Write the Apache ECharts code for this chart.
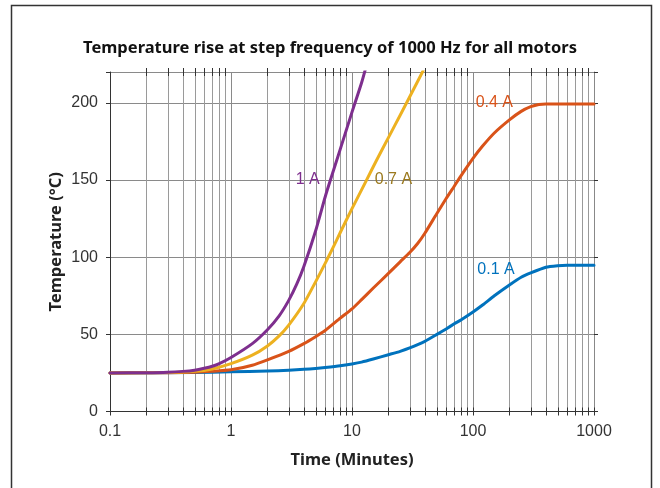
<!DOCTYPE html>
<html>
<head>
<meta charset="utf-8">
<script src="https://cdn.jsdelivr.net/npm/echarts@6/dist/echarts.min.js"></script>
<style>html,body{margin:0;padding:0;background:#fff}#c{width:660px;height:488px}</style>
</head>
<body>
<div id="c"></div>
<script>
// ---- data ----
const xTickLabels = ['0.1', '1', '10', '100', '1000'];
const yTicks = [0, 50, 100, 150, 200];
const minorTimes = [0.2,0.3,0.4,0.5,0.6,0.7,0.8,0.9,2,3,4,5,6,7,8,9,20,30,40,50,60,70,80,90,200,300,400,500,600,700,800,900];

const time_01A = [0.1, 0.5, 1, 2, 3, 4, 5, 6, 8, 10, 12, 15, 20, 25, 30, 40, 50, 60, 70, 80, 100, 120, 150, 200, 250, 300, 400, 500, 600, 1000];
const temp_01A = [25, 25.2, 25.7, 26.2, 26.8, 27.3, 27.9, 28.5, 29.6, 30.8, 32, 34, 36.8, 39, 41.2, 45.5, 49.8, 53.5, 56.8, 59.5, 64.5, 69, 75, 82, 87, 89.8, 93.5, 94.5, 94.8, 94.8];

const time_04A = [0.1, 0.3, 0.5, 0.7, 1, 1.5, 2, 3, 4, 5, 6, 8, 10, 12, 15, 20, 25, 30, 35, 40, 50, 60, 70, 80, 100, 120, 150, 200, 250, 300, 350, 400, 1000];
const temp_04A = [25, 25.1, 25.4, 26, 27, 30, 33.5, 39, 44, 48.5, 52.5, 60.5, 66.5, 72.5, 80, 89.5, 97, 103, 109, 115.5, 128, 138, 146, 153, 164, 172, 180.5, 189, 194.5, 197.5, 199, 199.3, 199.3];

const time_07A = [0.1, 0.3, 0.5, 0.7, 1, 1.5, 2, 2.5, 3, 4, 5, 6, 7, 8, 10, 13, 16, 20, 25, 30, 40];
const temp_07A = [25, 25.2, 26, 27.6, 31, 36.5, 42.5, 49, 56, 70, 84, 96, 106.5, 116, 131.5, 149, 163, 177.5, 192, 204, 223];

const time_1A = [0.1, 0.2, 0.3, 0.4, 0.5, 0.6, 0.7, 0.8, 1, 1.5, 2, 2.5, 3, 3.5, 4, 5, 6, 6.6, 8, 10, 12, 14];
const temp_1A = [25, 25.1, 25.4, 26, 26.8, 28, 29.3, 31, 35, 44, 53, 62, 72, 82.7, 94, 117, 139, 149.5, 170, 194, 213, 232];

const seriesNames = ['0.1 A', '0.4 A', '0.7 A', '1 A'];
const labelTime = [155, 150, 22, 4.3];
const labelTemp = [92, 200, 150, 150];

const colors = ['#0072BD', '#D95319', '#EDB120', '#7E2F8E'];
const labelColors = ['#0072BD', '#D95319', '#9C7A1E', '#7E2F8E'];

const pairs = (xs, ys) => xs.map((x, i) => [x, ys[i]]);
const seriesData = [pairs(time_01A, temp_01A), pairs(time_04A, temp_04A), pairs(time_07A, temp_07A), pairs(time_1A, temp_1A)];

const chart = echarts.init(document.getElementById('c'));
const fmtX = v => { const s = String(+(+v).toPrecision(3)); return xTickLabels.includes(s) ? s : ''; };
const fmtY = v => yTicks.includes(v) ? String(v) : '';

const lineSeries = seriesData.map((d, i) => ({
  type: 'line', name: seriesNames[i], data: d, xAxisIndex: 0, yAxisIndex: 0,
  showSymbol: false, symbol: 'none', smooth: 0.2, clip: true, z: 5 + i,
  lineStyle: { color: colors[i], width: 3, join: 'round', cap: 'round' },
  markPoint: {
    symbol: 'circle', symbolSize: 0, silent: true,
    data: [{ coord: [labelTime[i], labelTemp[i]], value: seriesNames[i] }],
    label: { show: true, position: 'inside', formatter: seriesNames[i], color: labelColors[i],
      fontFamily: 'Liberation Sans', fontSize: 16 }
  }
}));

const minorSeries = {
  type: 'custom', xAxisIndex: 0, yAxisIndex: 0, silent: true, z: 1,
  data: minorTimes.map(t => [t, 0]),
  renderItem: (params, api) => {
    const p0 = api.coord([api.value(0), 0]);
    const p1 = api.coord([api.value(0), 220]);
    const x = Math.round(p0[0]) + 0.5;
    return { type: 'group', children: [
      { type: 'line', shape: { x1: x, y1: p0[1], x2: x, y2: p1[1] }, style: { stroke: '#9a9a9a', lineWidth: 1 } },
      { type: 'line', shape: { x1: x, y1: p0[1] - 4, x2: x, y2: p0[1] + 4 }, style: { stroke: '#333', lineWidth: 1 } },
      { type: 'line', shape: { x1: x, y1: p1[1] - 4, x2: x, y2: p1[1] + 4 }, style: { stroke: '#333', lineWidth: 1 } }
    ]};
  }
};

chart.setOption({
  animation: false,
  backgroundColor: '#fff',
  title: {
    text: 'Temperature rise at step frequency of 1000 Hz for all motors',
    left: 'center', top: 35,
    textStyle: { fontFamily: 'Noto Sans', fontWeight: 'bold', fontSize: 16.5, color: '#111' }
  },
  graphic: [{ type: 'rect', shape: { x: 11.5, y: 5.5, width: 640, height: 500 }, style: { fill: 'none', stroke: '#333', lineWidth: 1.5 }, silent: true }],
  grid: { left: 110, right: 66, top: 72, bottom: 76.5, containLabel: false },
  xAxis: [{
    type: 'log', logBase: 10, min: 0.1, max: 1000, position: 'bottom',
    name: 'Time (Minutes)', nameLocation: 'middle', nameGap: 40, nameMoveOverlap: false,
    nameTextStyle: { fontFamily: 'Noto Sans', fontWeight: 'bold', fontSize: 16.5, color: '#222' },
    axisLine: { show: true, lineStyle: { color: '#333', width: 1 } },
    axisTick: { show: true, inside: false, length: 4, lineStyle: { color: '#333' } },
    minorTick: { show: false }, minorSplitLine: { show: false },
    axisLabel: { formatter: fmtX, fontFamily: 'Liberation Sans', fontSize: 16, color: '#333', margin: 12 },
    splitLine: { show: true, lineStyle: { color: '#8a8a8a', width: 1 } }
  }, {
    type: 'log', logBase: 10, min: 0.1, max: 1000, position: 'top',
    axisLine: { show: true, lineStyle: { color: '#333', width: 1 } },
    axisTick: { show: true, inside: false, length: 4, lineStyle: { color: '#333' } },
    axisLabel: { show: false }, splitLine: { show: false }
  }],
  yAxis: [{
    type: 'value', min: 0, max: 220, interval: 50, position: 'left',
    name: 'Temperature (°C)', nameLocation: 'middle', nameGap: 45, nameRotate: 90, nameMoveOverlap: false,
    nameTextStyle: { fontFamily: 'Noto Sans', fontWeight: 'bold', fontSize: 16.5, color: '#222' },
    axisLine: { show: true, lineStyle: { color: '#333', width: 1 } },
    axisTick: { show: true, inside: false, length: 4, lineStyle: { color: '#333' } },
    axisLabel: { formatter: fmtY, fontFamily: 'Liberation Sans', fontSize: 16, color: '#333', margin: 12 },
    splitLine: { show: true, lineStyle: { color: '#8a8a8a', width: 1 } }
  }, {
    type: 'value', min: 0, max: 220, interval: 50, position: 'right',
    axisLine: { show: true, lineStyle: { color: '#888', width: 1 } },
    axisTick: { show: true, inside: false, length: 4, lineStyle: { color: '#333' } },
    axisLabel: { show: false }, splitLine: { show: false }
  }],
  series: [minorSeries, ...lineSeries]
});
</script>
</body>
</html>
